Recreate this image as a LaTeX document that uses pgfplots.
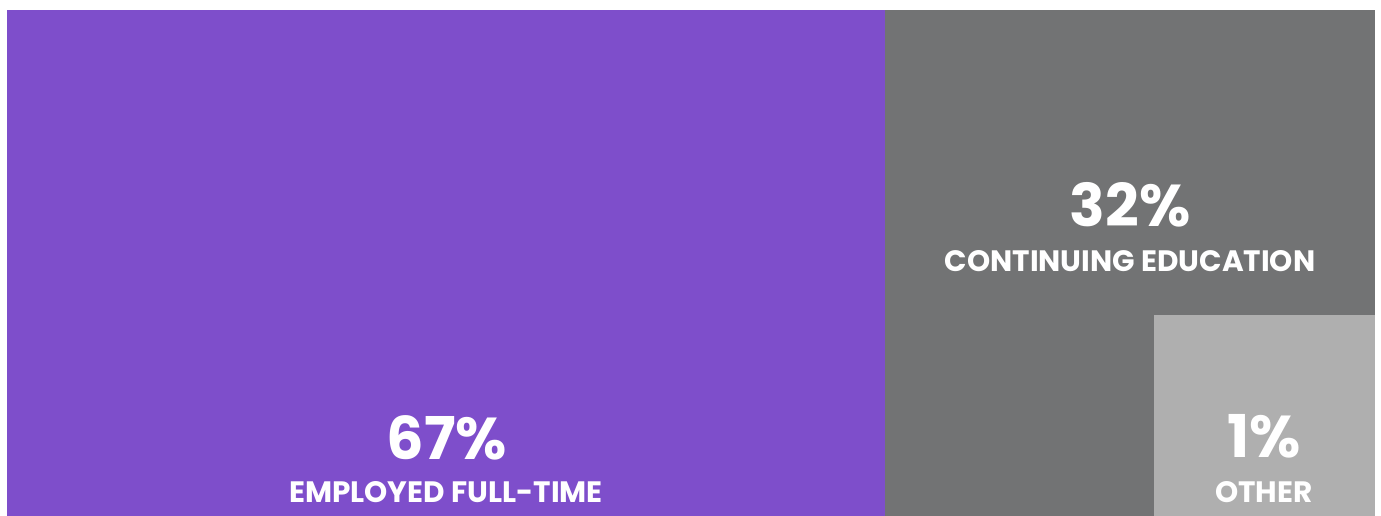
\documentclass[border=0pt]{standalone}
\usepackage{pgfplots}
\pgfplotsset{compat=1.18}
\usepackage{fontspec}
\setmainfont{Poppins}
\definecolor{cpurple}{HTML}{7E4ECB}
\definecolor{cgray}{HTML}{727374}
\definecolor{clight}{HTML}{AFAFAF}
\begin{document}
\begin{tikzpicture}
\begin{axis}[
  scale only axis, width=1381pt, height=516pt,
  xmin=0, xmax=1381, ymin=0, ymax=516,
  hide axis, clip=false,
]
\path (axis cs:0,0) rectangle (axis cs:1381,516);
% treemap: 67% | 32% | 1%
\addplot[fill=cpurple, draw=none] coordinates {(7,0) (885,0) (885,506) (7,506)} -- cycle;
\addplot[fill=cgray, draw=none] coordinates {(885,0) (1375,0) (1375,506) (885,506)} -- cycle;
\addplot[fill=clight, draw=none] coordinates {(1154,0) (1375,0) (1375,201) (1154,201)} -- cycle;
\node[anchor=base, text=white, font=\fontsize{59}{59}\selectfont\bfseries] at (axis cs:447,56) {67\%};
\node[anchor=base, text=white, font=\fontsize{29.5}{30}\selectfont\bfseries] at (axis cs:446,13) {EMPLOYED FULL-TIME};
\node[anchor=base, text=white, font=\fontsize{59}{59}\selectfont\bfseries] at (axis cs:1130,289) {32\%};
\node[anchor=base, text=white, font=\fontsize{29.5}{30}\selectfont\bfseries] at (axis cs:1130,244) {CONTINUING EDUCATION};
\node[anchor=base, text=white, font=\fontsize{59}{59}\selectfont\bfseries] at (axis cs:1264,58) {1\%};
\node[anchor=base, text=white, font=\fontsize{29.5}{30}\selectfont\bfseries] at (axis cs:1264,13) {OTHER};
\end{axis}
\end{tikzpicture}
\end{document}
